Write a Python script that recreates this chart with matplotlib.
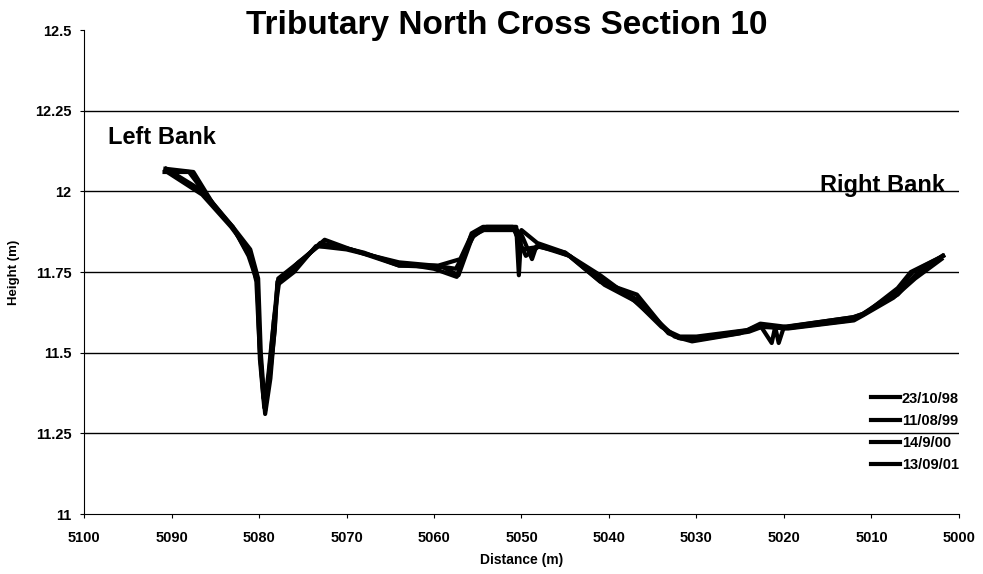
import matplotlib
matplotlib.use("Agg")
import matplotlib.pyplot as plt

plt.rcParams['font.family'] = ['Liberation Sans', 'DejaVu Sans']
plt.rcParams['font.weight'] = 'bold'

# survey dates and cross-section profiles (distance m, height m)
dates = ["23/10/98", "11/08/99", "14/9/00", "13/09/01"]

dist_98 = [5090.7, 5087.5, 5085.0, 5083.0, 5081.2, 5080.2, 5079.9, 5079.3, 5078.7, 5078.2,
           5077.9, 5075.6, 5073.0, 5071.5, 5069.5, 5064.5, 5060.0, 5057.4, 5055.7, 5054.4,
           5050.6, 5050.3, 5050.0, 5048.2, 5045.0, 5041.0, 5036.8, 5033.5, 5031.9, 5030.0,
           5024.2, 5022.7, 5019.7, 5012.1, 5011.0, 5007.1, 5005.3, 5001.8]
height_98 = [12.07, 12.06, 11.95, 11.89, 11.80, 11.72, 11.50, 11.31, 11.42, 11.58,
             11.72, 11.77, 11.84, 11.83, 11.82, 11.78, 11.76, 11.735, 11.87, 11.89,
             11.89, 11.74, 11.88, 11.84, 11.81, 11.72, 11.68, 11.57, 11.55, 11.55,
             11.57, 11.59, 11.58, 11.61, 11.62, 11.69, 11.75, 11.80]

dist_99 = [5090.6, 5086.4, 5083.0, 5081.0, 5080.1, 5079.8, 5079.3, 5078.8, 5078.3, 5077.8,
           5075.0, 5072.5, 5069.5, 5064.0, 5059.5, 5057.0, 5055.8, 5054.3, 5050.5, 5049.9,
           5048.8, 5048.3, 5045.0, 5041.0, 5036.5, 5033.2, 5031.8, 5030.0, 5024.0, 5022.6,
           5021.4, 5021.0, 5020.6, 5020.0, 5012.0, 5011.0, 5007.0, 5005.0, 5001.9]
height_99 = [12.07, 12.00, 11.89, 11.82, 11.73, 11.50, 11.32, 11.45, 11.60, 11.73,
             11.79, 11.85, 11.82, 11.77, 11.77, 11.79, 11.86, 11.88, 11.88, 11.86,
             11.79, 11.83, 11.81, 11.73, 11.66, 11.56, 11.545, 11.545, 11.57, 11.58,
             11.53, 11.58, 11.53, 11.58, 11.61, 11.62, 11.68, 11.74, 11.80]

dist_00 = [5090.5, 5086.5, 5083.2, 5081.0, 5080.2, 5079.9, 5079.4, 5078.9, 5078.3, 5077.7,
           5075.5, 5073.2, 5070.0, 5064.0, 5060.0, 5057.5, 5055.5, 5054.0, 5051.0, 5049.5,
           5048.0, 5044.5, 5040.5, 5037.0, 5034.0, 5032.0, 5030.0, 5024.0, 5022.5, 5019.5,
           5012.0, 5011.0, 5007.5, 5005.0, 5002.0]
height_00 = [12.06, 11.99, 11.89, 11.81, 11.72, 11.48, 11.33, 11.44, 11.60, 11.72,
             11.78, 11.83, 11.82, 11.78, 11.77, 11.76, 11.86, 11.89, 11.89, 11.80,
             11.83, 11.80, 11.71, 11.66, 11.58, 11.545, 11.54, 11.565, 11.58, 11.575,
             11.60, 11.615, 11.67, 11.73, 11.79]

dist_01 = [5090.8, 5088.0, 5085.5, 5082.8, 5080.9, 5080.3, 5080.0, 5079.5, 5078.8, 5078.2,
           5077.9, 5076.0, 5073.5, 5071.0, 5068.0, 5064.0, 5059.0, 5057.2, 5055.6, 5054.6,
           5050.8, 5050.0, 5047.5, 5044.5, 5041.0, 5037.5, 5034.5, 5032.5, 5030.5, 5025.0,
           5022.8, 5020.0, 5012.5, 5010.8, 5007.0, 5005.5, 5001.8]
height_01 = [12.06, 12.06, 11.97, 11.88, 11.79, 11.72, 11.55, 11.36, 11.42, 11.57,
             11.71, 11.75, 11.83, 11.83, 11.81, 11.77, 11.765, 11.74, 11.86, 11.885,
             11.885, 11.82, 11.83, 11.80, 11.74, 11.67, 11.60, 11.55, 11.535, 11.56,
             11.585, 11.575, 11.60, 11.62, 11.70, 11.75, 11.80]

y_ticks = [11, 11.25, 11.5, 11.75, 12, 12.25, 12.5]
y_labels = ["11", "11.25", "11.5", "11.75", "12", "12.25", "12.5"]
x_ticks = [5100, 5090, 5080, 5070, 5060, 5050, 5040, 5030, 5020, 5010, 5000]

fig = plt.figure(figsize=(9.83, 5.74), dpi=100)
ax = fig.add_axes([0.0855, 0.1045, 0.89, 0.8432])

profiles = [(dist_98, height_98), (dist_99, height_99), (dist_00, height_00), (dist_01, height_01)]
for (d, h), lab in zip(profiles, dates):
    ax.plot(d, h, color="black", lw=3.0, label=lab, solid_joinstyle="round")

ax.set_xlim(5100, 5000)
ax.set_ylim(11, 12.5)
ax.set_xticks(x_ticks)
ax.set_yticks(y_ticks)
ax.set_yticklabels(y_labels)
ax.tick_params(axis="both", labelsize=10.5, direction="out", length=3, width=0.8)
ax.tick_params(axis="x", pad=9)
ax.tick_params(axis="y", pad=6)
for t in ax.get_xticklabels() + ax.get_yticklabels():
    t.set_fontweight("bold")

# horizontal gridlines only at the inner ticks
for y in y_ticks[1:-1]:
    ax.axhline(y, color="black", lw=1.0)

ax.spines["top"].set_visible(False)
ax.spines["right"].set_visible(False)

ax.set_xlabel("Distance (m)", fontsize=10, fontweight="bold", labelpad=6)
fig.text(14 / 983, 0.526, "Height (m)", fontsize=9.5, fontweight="bold",
         rotation=90, ha="center", va="center")

ax.text(5097.3, 12.168, "Left Bank", fontsize=17, fontweight="bold", va="center")
ax.text(5015.9, 12.017, "Right Bank", fontsize=17, fontweight="bold", va="center")

fig.text(0.516, 0.955, "Tributary North Cross Section 10", fontsize=24,
         fontweight="bold", ha="center", va="center")

leg = ax.legend(loc="upper left", bbox_to_anchor=(0.893, 0.265), frameon=False,
                fontsize=10.5, handlelength=2.0, handletextpad=0.1, labelspacing=0.55,
                borderaxespad=0)
for t in leg.get_texts():
    t.set_fontweight("bold")

fig.savefig("out.png", dpi=100)
